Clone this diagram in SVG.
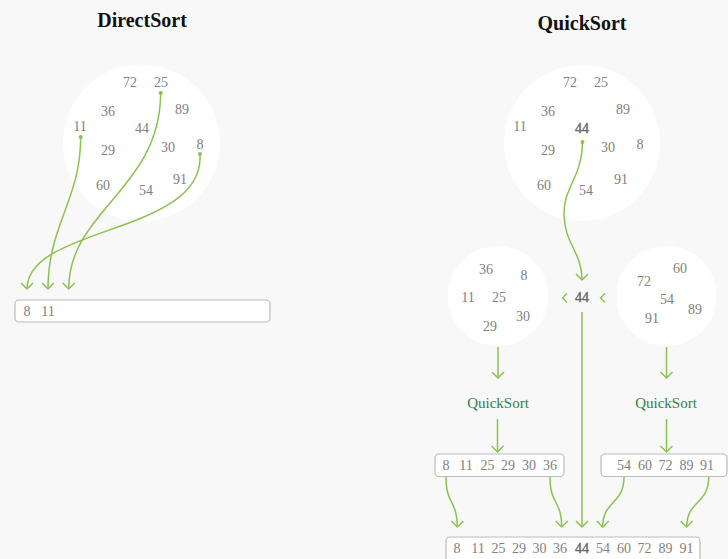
<svg xmlns="http://www.w3.org/2000/svg" width="728" height="559" viewBox="0 0 728 559">
<style>
.bg{fill:#f8f8f8}
.title{font-family:"Liberation Serif",serif;font-weight:bold;font-size:20px;fill:#111;text-anchor:middle}
.n{font-family:"Liberation Serif",serif;font-size:14px;fill:#808080;text-anchor:middle;dominant-baseline:central}
.p{font-family:"Liberation Serif",serif;font-size:14px;fill:#666;stroke:#666;stroke-width:0.4;text-anchor:middle;dominant-baseline:central}
.lbl{font-family:"Liberation Serif",serif;font-size:15px;fill:#2f7f50;text-anchor:middle}
.pool{fill:#ffffff}
.bar{fill:#ffffff;stroke:#bbbbbb;stroke-width:1.2}
.c{fill:none;stroke:#8cc152;stroke-width:1.5}
.dot{fill:#8cc152}
</style>
<defs>
<marker id="ah" viewBox="-7 -7 9 14" markerWidth="9" markerHeight="14" refX="0" refY="0" orient="auto" markerUnits="userSpaceOnUse">
<path d="M-6,-6 L0,0 L-6,6" fill="none" stroke="#8cc152" stroke-width="1.5"/>
</marker>
</defs>
<rect class="bg" x="0" y="0" width="728" height="559"/>

<g id="direct-title"><text class="title" x="142" y="27">DirectSort</text></g>
<g id="quick-title"><text class="title" x="582" y="30">QuickSort</text></g>

<g id="direct-pool">
<circle class="pool" cx="141.5" cy="143" r="78.5"/>
<text class="n" x="130" y="82">72</text>
<text class="n" x="161" y="82">25</text>
<text class="n" x="108" y="111">36</text>
<text class="n" x="182" y="109">89</text>
<text class="n" x="80" y="126">11</text>
<text class="n" x="142" y="128">44</text>
<text class="n" x="108" y="150">29</text>
<text class="n" x="168" y="147">30</text>
<text class="n" x="200" y="144">8</text>
<text class="n" x="103" y="185">60</text>
<text class="n" x="146" y="190">54</text>
<text class="n" x="180" y="179">91</text>
</g>

<g id="direct-bar">
<rect class="bar" x="15" y="300" width="255" height="22" rx="4"/>
<text class="n" x="27" y="311">8</text>
<text class="n" x="48" y="311">11</text>
</g>

<g id="quick-pool">
<circle class="pool" cx="582" cy="143" r="78"/>
<text class="n" x="570" y="82">72</text>
<text class="n" x="601" y="82">25</text>
<text class="n" x="548" y="111">36</text>
<text class="n" x="623" y="109">89</text>
<text class="n" x="520" y="126">11</text>
<text class="p" x="582" y="128">44</text>
<text class="n" x="548" y="150">29</text>
<text class="n" x="608" y="147">30</text>
<text class="n" x="640" y="144">8</text>
<text class="n" x="544" y="185">60</text>
<text class="n" x="586" y="190">54</text>
<text class="n" x="621" y="179">91</text>
</g>

<g id="left-pool">
<circle class="pool" cx="498" cy="296" r="50"/>
<text class="n" x="486" y="269">36</text>
<text class="n" x="524" y="275">8</text>
<text class="n" x="468" y="297">11</text>
<text class="n" x="499" y="297">25</text>
<text class="n" x="523" y="316">30</text>
<text class="n" x="490" y="326">29</text>
</g>

<g id="pivot">
<polyline class="c" points="567,293.5 562.5,298 567,302.5"/>
<text class="p" x="582" y="297">44</text>
<polyline class="c" points="605,293.5 600.5,298 605,302.5"/>
</g>

<g id="right-pool">
<circle class="pool" cx="666.5" cy="296" r="50"/>
<text class="n" x="680" y="268">60</text>
<text class="n" x="644" y="281">72</text>
<text class="n" x="667" y="299">54</text>
<text class="n" x="695" y="309">89</text>
<text class="n" x="652" y="318">91</text>
</g>

<g id="left-label"><text class="lbl" x="498" y="408">QuickSort</text></g>
<g id="right-label"><text class="lbl" x="666" y="408">QuickSort</text></g>

<g id="left-bar">
<rect class="bar" x="435" y="454" width="129" height="22.5" rx="4"/>
<text class="n" x="446" y="465">8</text>
<text class="n" x="466" y="465">11</text>
<text class="n" x="487.5" y="465">25</text>
<text class="n" x="508" y="465">29</text>
<text class="n" x="529" y="465">30</text>
<text class="n" x="550" y="465">36</text>
</g>

<g id="right-bar">
<rect class="bar" x="601" y="454" width="126" height="22.5" rx="4"/>
<text class="n" x="624" y="465">54</text>
<text class="n" x="645" y="465">60</text>
<text class="n" x="665.5" y="465">72</text>
<text class="n" x="686.5" y="465">89</text>
<text class="n" x="707" y="465">91</text>
</g>

<g id="result-bar">
<rect class="bar" x="446" y="537" width="254" height="26" rx="4"/>
<text class="n" x="457" y="548">8</text>
<text class="n" x="478" y="548">11</text>
<text class="n" x="498.5" y="548">25</text>
<text class="n" x="519" y="548">29</text>
<text class="n" x="539.5" y="548">30</text>
<text class="n" x="560" y="548">36</text>
<text class="p" x="582" y="548">44</text>
<text class="n" x="603" y="548">54</text>
<text class="n" x="624" y="548">60</text>
<text class="n" x="644.5" y="548">72</text>
<text class="n" x="665.5" y="548">89</text>
<text class="n" x="686.5" y="548">91</text>
</g>

<g id="connectors">
<circle class="dot" cx="80.7" cy="137" r="2"/>
<circle class="dot" cx="160.7" cy="93" r="2"/>
<circle class="dot" cx="200" cy="154" r="2"/>
<path class="c" marker-end="url(#ah)" d="M80.7,137 C80.7,200 48,225 48,289"/>
<path class="c" marker-end="url(#ah)" d="M160.7,93 C160,190 68.7,210 68.7,289"/>
<path class="c" marker-end="url(#ah)" d="M200,154 C205,235 27,225 27,289"/>

<circle class="dot" cx="582.5" cy="142" r="2"/>
<path class="c" marker-end="url(#ah)" d="M582.5,142 C582,178 563,188 564,215 C565,245 582,252 582,280"/>
<path class="c" marker-end="url(#ah)" d="M582,312 L582,527"/>

<path class="c" marker-end="url(#ah)" d="M498,347 L498,378"/>
<path class="c" marker-end="url(#ah)" d="M666.5,347 L666.5,378"/>
<path class="c" marker-end="url(#ah)" d="M497.5,419 L497.5,452"/>
<path class="c" marker-end="url(#ah)" d="M666.5,419 L666.5,452"/>

<path class="c" marker-end="url(#ah)" d="M446,477 C446,505 457.3,500 457.3,527"/>
<path class="c" marker-end="url(#ah)" d="M550,477 C550,505 561.7,500 561.7,527"/>
<path class="c" marker-end="url(#ah)" d="M624,477 C624,505 602.7,500 602.7,527"/>
<path class="c" marker-end="url(#ah)" d="M708.7,477 C708.7,505 686.7,500 686.7,527"/>
</g>
</svg>
